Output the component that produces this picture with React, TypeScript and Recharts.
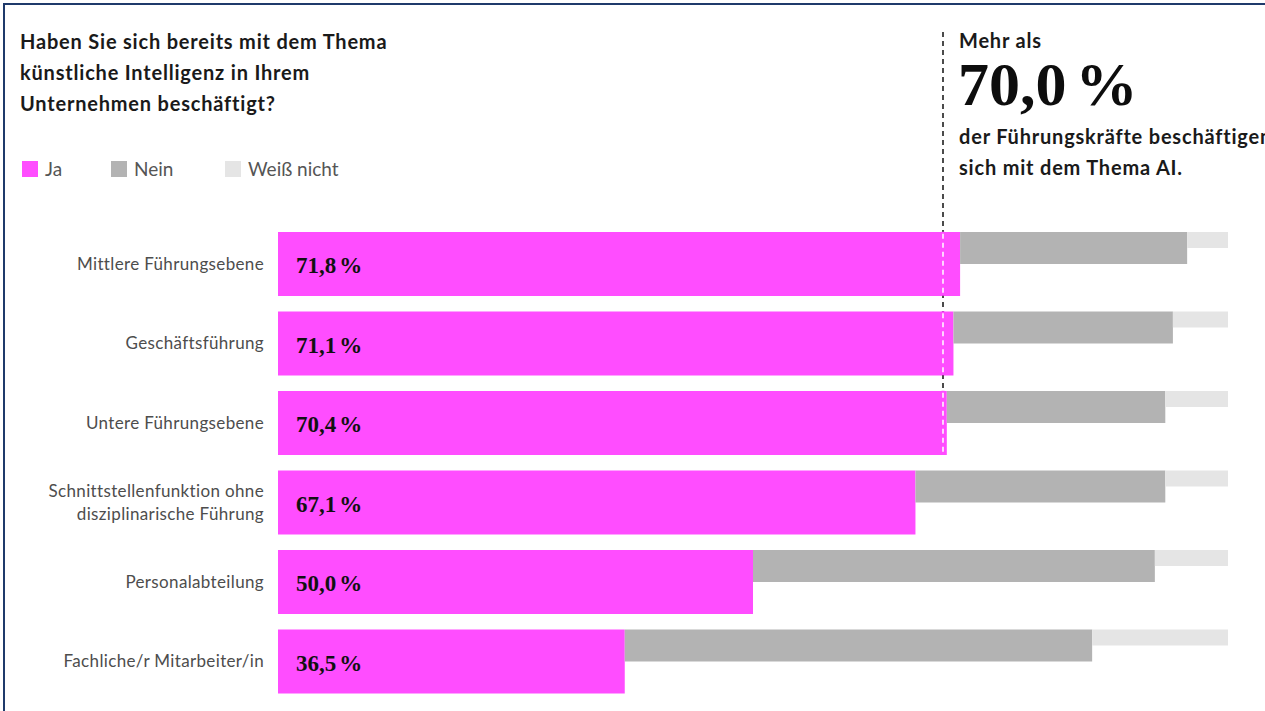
import React from 'react';
import { BarChart, Bar, XAxis, YAxis, ReferenceLine, LabelList } from 'recharts';

// ---------- data ----------
const categories = [
  'Mittlere Führungsebene',
  'Geschäftsführung',
  'Untere Führungsebene',
  'Schnittstellenfunktion ohne\ndisziplinarische Führung',
  'Personalabteilung',
  'Fachliche/r Mitarbeiter/in',
];
const jaValues = [71.8, 71.1, 70.4, 67.1, 50.0, 36.5];
const neinValues = [23.9, 23.1, 23.0, 26.3, 42.3, 49.2];
const weissNichtValues = [4.3, 5.8, 6.6, 6.6, 7.7, 14.3];
const seriesNames = ['Ja', 'Nein', 'Weiß nicht'];
const seriesColors = ['#ff4dff', '#b3b3b3', '#e5e5e5'];
const thresholdValue = 70;
const xDomain = [0, 100];
const titleLines = [
  'Haben Sie sich bereits mit dem Thema',
  'künstliche Intelligenz in Ihrem',
  'Unternehmen beschäftigt?',
];
const calloutPre = 'Mehr als';
const calloutLines = ['der Führungskräfte beschäftigen', 'sich mit dem Thema AI.'];

const data = categories.map((c, i) => ({
  category: c,
  ja: jaValues[i],
  nein: neinValues[i],
  weiss: weissNichtValues[i],
}));

const SANS = 'Lato, "Noto Sans", sans-serif';
const SERIF = '"Liberation Serif", "DejaVu Serif", serif';
const BAR_SIZE = 64;

const fmtNum = (v: number) => v.toFixed(1).replace('.', ',');

// ---------- shapes ----------
const JaShape = (props: any) => {
  const { x, y, width, height, fill } = props;
  return <rect x={x} y={y} width={width} height={height} fill={fill} />;
};

const NeinShape = (props: any) => {
  const { x, y, width, height, fill } = props;
  return <rect x={x} y={y} width={width} height={height / 2} fill={fill} />;
};

const WeissShape = (props: any) => {
  const { x, y, width, height, fill } = props;
  return <rect x={x} y={y} width={width} height={height / 4} fill={fill} />;
};

const ValueLabel = (props: any) => {
  const { x, y, height, value } = props;
  return (
    <text
      x={x + 18}
      y={y + height / 2}
      dy={9}
      fontFamily={SERIF}
      fontWeight={700}
      fontSize={23}
      fill="#111111"
    >
      {fmtNum(value)}
      <tspan dx={3}>%</tspan>
    </text>
  );
};

const CategoryTick = (props: any) => {
  const { x, y, payload } = props;
  const lines = String(payload.value).split('\n');
  const lh = 23;
  const start = -((lines.length - 1) * lh) / 2;
  return (
    <text
      x={x}
      y={y}
      textAnchor="end"
      fontFamily={SANS}
      fontSize={17}
      letterSpacing={0.35}
      fill="#4d4d4d"
    >
      {lines.map((l, i) => (
        <tspan key={i} x={x} y={y + start + i * lh} dy={6}>
          {l}
        </tspan>
      ))}
    </text>
  );
};

const RefShape = (props: any) => {
  const { x1, y1, y2 } = props;
  const top = Math.min(y1, y2);
  const bottom = Math.max(y1, y2);
  const band = (bottom - top) / categories.length;
  const pad = (band - BAR_SIZE) / 2;
  const end = top + 2 * band + pad + BAR_SIZE;
  return (
    <g>
      <line
        x1={x1}
        x2={x1}
        y1={32}
        y2={end}
        stroke="#111111"
        strokeWidth={1.5}
        strokeDasharray="5 4"
      />
      {jaValues.map((v, i) =>
        v > thresholdValue ? (
          <g key={i}>
            <line
              x1={x1}
              x2={x1}
              y1={top + i * band + pad}
              y2={top + i * band + pad + BAR_SIZE}
              stroke={seriesColors[0]}
              strokeWidth={3}
            />
            <line
              x1={x1}
              x2={x1}
              y1={top + i * band + pad + 2}
              y2={top + i * band + pad + BAR_SIZE}
              stroke="#ffffff"
              strokeWidth={1.5}
              strokeDasharray="5 4"
            />
          </g>
        ) : null
      )}
    </g>
  );
};

const legendX = [22, 111, 225];

export default function App() {
  return (
    <div
      style={{
        position: 'absolute',
        left: 0,
        top: 0,
        width: 1265,
        height: 711,
        overflow: 'hidden',
        background: '#ffffff',
      }}
    >
      <div
        style={{
          position: 'absolute',
          left: 3,
          top: 3,
          width: 1320,
          height: 820,
          border: '2px solid #1f3a6b',
          boxSizing: 'border-box',
        }}
      />
      <div style={{ position: 'absolute', left: 0, top: 0 }}>
        <BarChart
          width={1265}
          height={711}
          data={data}
          layout="vertical"
          margin={{ top: 224, right: 37, bottom: 10, left: 0 }}
          barSize={BAR_SIZE}
        >
          <XAxis type="number" domain={xDomain} hide />
          <YAxis
            type="category"
            dataKey="category"
            width={278}
            axisLine={false}
            tickLine={false}
            tickMargin={8}
            interval={0}
            tick={<CategoryTick />}
          />
          <Bar
            dataKey="ja"
            name={seriesNames[0]}
            stackId="a"
            fill={seriesColors[0]}
            shape={<JaShape />}
            isAnimationActive={false}
          >
            <LabelList dataKey="ja" content={<ValueLabel />} />
          </Bar>
          <Bar
            dataKey="nein"
            name={seriesNames[1]}
            stackId="a"
            fill={seriesColors[1]}
            shape={<NeinShape />}
            isAnimationActive={false}
          />
          <Bar
            dataKey="weiss"
            name={seriesNames[2]}
            stackId="a"
            fill={seriesColors[2]}
            shape={<WeissShape />}
            isAnimationActive={false}
          />
          <ReferenceLine x={thresholdValue} ifOverflow="visible" shape={<RefShape />} />
        </BarChart>
      </div>
      <svg
        width={1265}
        height={711}
        style={{ position: 'absolute', left: 0, top: 0, pointerEvents: 'none' }}
      >
        {titleLines.map((t, i) => (
          <text
            key={i}
            x={20}
            y={49 + i * 31}
            fontFamily={SANS}
            fontWeight={700}
            fontSize={20}
            letterSpacing={0.8}
            fill="#1a1a1a"
          >
            {t}
          </text>
        ))}
        {seriesNames.map((n, i) => (
          <g key={n}>
            <rect x={legendX[i]} y={161} width={16} height={16} fill={seriesColors[i]} />
            <text
              x={legendX[i] + 23}
              y={176}
              fontFamily={SANS}
              fontSize={19}
              fill="#555555"
            >
              {n}
            </text>
          </g>
        ))}
        <text
          x={959}
          y={48}
          fontFamily={SANS}
          fontWeight={700}
          fontSize={20}
          letterSpacing={0.8}
          fill="#1a1a1a"
        >
          {calloutPre}
        </text>
        <text x={958} y={105} fontFamily={SERIF} fontWeight={700} fontSize={62} fill="#0d0d0d">
          {fmtNum(thresholdValue)}
          <tspan dx={9}>%</tspan>
        </text>
        {calloutLines.map((t, i) => (
          <text
            key={i}
            x={959}
            y={144 + i * 31}
            fontFamily={SANS}
            fontWeight={700}
            fontSize={20}
            letterSpacing={0.8}
            fill="#1a1a1a"
          >
            {t}
          </text>
        ))}
      </svg>
    </div>
  );
}
